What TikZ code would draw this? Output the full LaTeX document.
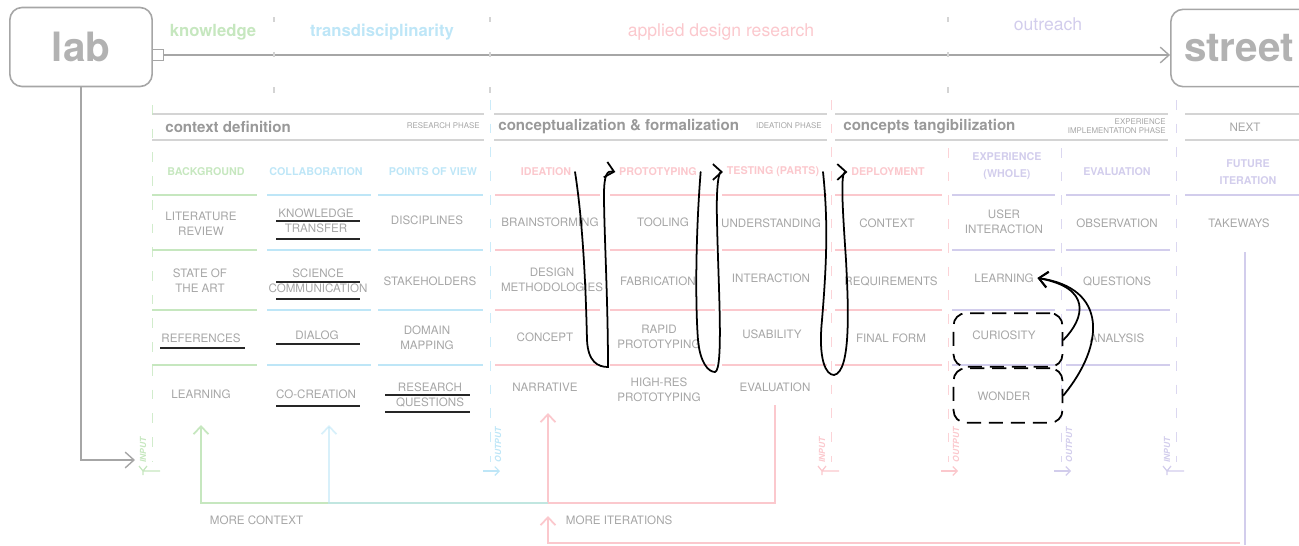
\documentclass[tikz,border=0pt]{standalone}
\usepackage{fontspec}
\setmainfont{TeX Gyre Heros}
\usetikzlibrary{arrows.meta}

\definecolor{kgreen}{RGB}{198,231,191}
\definecolor{tblue}{RGB}{190,230,247}
\definecolor{apink}{RGB}{251,200,205}
\definecolor{opurple}{RGB}{210,205,236}
\definecolor{txtgray}{RGB}{166,166,166}
\definecolor{rulegray}{RGB}{212,212,212}

\tikzset{
  cell/.style={text=txtgray, font=\fontsize{6.6}{8.5}\selectfont, align=center, inner sep=2pt},
  cat/.style={font=\fontsize{6.1}{10}\selectfont\bfseries, align=center, inner sep=2pt},
  phase/.style={text=black!40, font=\fontsize{8.6}{10}\selectfont\bfseries, anchor=west, inner sep=0pt},
  tag/.style={text=txtgray, font=\fontsize{4.5}{5.4}\selectfont, align=right, anchor=east, inner sep=0pt},
  theme/.style={font=\fontsize{9.5}{11}\selectfont\bfseries},
  place/.style={draw=txtgray, line width=0.9pt, rounded corners=7pt, text=black!30, font=\fontsize{23}{25}\selectfont\bfseries},
  flow/.style={draw=txtgray, line width=0.8pt, >={Straight Barb[length=5pt,width=9pt]}},
  fb/.style={line width=1pt, >={Straight Barb[length=4.5pt,width=8.5pt]}},
  hrule/.style={rulegray, line width=1.1pt},
  colrule/.style={line width=1.1pt},
  topsep/.style={rulegray, line width=0.6pt, dash pattern=on 3pt off 17pt},
  iosep/.style={line width=0.55pt, opacity=0.8, dash pattern=on 5.5pt off 8pt},
  io/.style={font=\fontsize{4.8}{5}\selectfont\bfseries\itshape, rotate=90, inner sep=0pt},
  uline/.style={black!85, line width=1pt},
  hand/.style={black, line width=1pt, line cap=round, >={Straight Barb[length=5pt,width=9pt]}},
  dbox/.style={draw=black, line width=1pt, dash pattern=on 8pt off 4.5pt, rounded corners=7pt, minimum width=62pt, inner sep=0pt}
}

\begin{document}
\begin{tikzpicture}[x=0.02cm, y=-0.02cm]
  \clip (0,0) rectangle (1299,545);

  % lab to street
  \node[place, minimum width=81pt, minimum height=45pt] (lab) at (81,47) {lab};
  \node[place, minimum width=81pt, minimum height=44pt, text width=66pt] (street) at (1242,48) {street};
  \node[draw=txtgray, line width=0.8pt, minimum size=6.3pt, inner sep=0pt] (port) at (158,55) {};
  \draw[flow, ->] (port) -- (port -| street.west);

  \foreach \x in {274, 490, 948}
    \draw[topsep] (\x,17) -- (\x,96);

  \node[theme, text=kgreen] (knowledge) at (213,32) {knowledge};
  \node[theme, text=tblue] (transdisc) at (382,32) {transdisciplinarity};
  \node[theme, text=apink, font=\fontsize{10}{12}\selectfont] (applied) at (721,32) {applied design research};
  \node[theme, text=opurple, font=\fontsize{10}{12}\selectfont] (outreach) at (1048,24) {outreach};

  % phase headers
  \foreach \a/\b in {152/484, 494/827, 835/1168, 1185/1305} {
    \draw[hrule] (\a,114) -- (\b,114);
    \draw[hrule] (\a,140) -- (\b,140);
  }
  \node[phase] (ctxdef) at (165,127) {context definition};
  \node[tag] (researchph) at (480,126) {RESEARCH PHASE};
  \node[phase] (concform) at (498,127) {conceptualization \& formalization};
  \node[tag] (ideationph) at (822,126) {IDEATION PHASE};
  \node[phase] (conctang) at (843,127) {concepts tangibilization};
  \node[tag] (experienceph) at (1166,126) {EXPERIENCE\\IMPLEMENTATION PHASE};
  \node[cell] (next) at (1245,127) {NEXT};

  % column rules
  \foreach \a/\b/\c in {152/257/kgreen, 267/371/tblue, 378/483/tblue, 495/600/apink, 610/715/apink,
                        722/827/apink, 835/942/apink, 952/1055/opurple, 1066/1170/opurple}
    \foreach \y in {195, 250, 310, 365}
      \draw[colrule, \c] (\a,\y) -- (\b,\y);
  \draw[colrule, opurple] (1185,195) -- (1305,195);

  % categories
  \node[cat, text=kgreen] (background) at (206,172) {BACKGROUND};
  \node[cat, text=tblue] (collaboration) at (316,172) {COLLABORATION};
  \node[cat, text=tblue] (pointsofview) at (433,172) {POINTS OF VIEW};
  \node[cat, text=apink] (ideation) at (546,172) {IDEATION};
  \node[cat, text=apink] (prototyping) at (658,172) {PROTOTYPING};
  \node[cat, text=apink] (testing) at (773,172) {TESTING (PARTS)};
  \node[cat, text=apink] (deployment) at (888,172) {DEPLOYMENT};
  \node[cat, text=opurple] (experience) at (1007,166) {EXPERIENCE\\(WHOLE)};
  \node[cat, text=opurple] (evaluation) at (1117,172) {EVALUATION};
  \node[cat, text=opurple] (future) at (1248,172) {FUTURE\\ITERATION};

  % cells
  \node[cell] (litreview) at (201,224) {LITERATURE\\REVIEW};
  \node[cell] (knowtransfer) at (316,221) {KNOWLEDGE\\TRANSFER};
  \node[cell] (disciplines) at (427,220) {DISCIPLINES};
  \node[cell] (brainstorming) at (550,222) {BRAINSTORMING};
  \node[cell] (tooling) at (663,222) {TOOLING};
  \node[cell] (understanding) at (771,223) {UNDERSTANDING};
  \node[cell] (context) at (887,223) {CONTEXT};
  \node[cell] (userinter) at (1004,222) {USER\\INTERACTION};
  \node[cell] (observation) at (1117,223) {OBSERVATION};
  \node[cell] (takeaways) at (1239,223) {TAKEWAYS};

  \node[cell] (stateart) at (200,281) {STATE OF\\THE ART};
  \node[cell] (scicomm) at (318,281) {SCIENCE\\COMMUNICATION};
  \node[cell] (stakeholders) at (430,281) {STAKEHOLDERS};
  \node[cell] (designmeth) at (552,280) {DESIGN\\METHODOLOGIES};
  \node[cell] (fabrication) at (658,281) {FABRICATION};
  \node[cell] (interaction) at (771,278) {INTERACTION};
  \node[cell] (requirements) at (891,281) {REQUIREMENTS};
  \node[cell] (learning) at (1004,278) {LEARNING};
  \node[cell] (questions) at (1117,281) {QUESTIONS};

  \node[cell] (references) at (201,338) {REFERENCES};
  \node[cell] (dialog) at (317,335) {DIALOG};
  \node[cell] (domainmap) at (427,338) {DOMAIN\\MAPPING};
  \node[cell] (concept) at (545,337) {CONCEPT};
  \node[cell] (rapidproto) at (659,337) {RAPID\\PROTOTYPING};
  \node[cell] (usability) at (772,334) {USABILITY};
  \node[cell] (finalform) at (891,338) {FINAL FORM};
  \node[cell] (curiosity) at (1004,335) {CURIOSITY};
  \node[cell] (analysis) at (1117,338) {ANALYSIS};

  \node[cell] (ctxlearning) at (201,394) {LEARNING};
  \node[cell] (cocreation) at (316,394) {CO-CREATION};
  \node[cell] (resquestions) at (430,395) {RESEARCH\\QUESTIONS};
  \node[cell] (narrative) at (545,387) {NARRATIVE};
  \node[cell] (highres) at (659,390) {HIGH-RES\\PROTOTYPING};
  \node[cell] (testeval) at (775,387) {EVALUATION};
  \node[cell] (wonder) at (1004,396) {WONDER};

  % underlines
  \foreach \a/\b/\y in {276/360/221, 276/360/239, 276/360/282, 276/360/299, 160/245/348,
                        276/360/344, 276/360/406, 385/470/395, 385/470/412}
    \draw[uline] (\a,\y) -- (\b,\y);

  % input / output separators
  \foreach \x/\y/\c in {152/105/kgreen, 490/100/tblue, 831/100/apink, 948/148/apink, 1061/148/opurple, 1176/100/opurple}
    \draw[iosep, \c] (\x,\y) -- (\x,462);
  \foreach \x/\c in {152/kgreen, 831/apink, 1176/opurple} {
    \node[io, text=\c] at (\x-9,450) {INPUT};
    \draw[\c, line width=0.7pt] (\x-13,466) -- (\x-9,471) -- (\x-5,466) (\x-9,471) -- (\x-9,475) (\x-9,471) -- (\x+8,471);
  }
  \foreach \x/\c in {490/tblue, 948/apink, 1061/opurple} {
    \node[io, text=\c] at (\x+8,445) {OUTPUT};
    \draw[\c, line width=0.7pt, -{Straight Barb[length=2.5pt,width=5pt]}] (\x-7,471) -- (\x+10,471);
  }

  % lab entry
  \coordinate (labin) at (135,460);
  \draw[flow, ->] (lab.south) |- (labin);

  % feedback loops
  \coordinate (tstout) at (775,405);
  \coordinate (fbjoin) at (548,503);
  \coordinate (narin) at (548,413);
  \coordinate (learnin) at (201,425);
  \coordinate (cocrin) at (329,425);
  \draw[fb, apink] (tstout) |- (fbjoin);
  \draw[fb, apink, ->] (fbjoin) -- (narin);
  \draw[fb, kgreen, ->] (fbjoin) -| (learnin);
  \draw[fb, tblue, opacity=0.6, ->] (fbjoin) -| (cocrin);
  \node[cell, anchor=west] (morectx) at (206,520) {MORE CONTEXT};

  \coordinate (nextout) at (1245,252);
  \coordinate (itercorner) at (1245,545);
  \coordinate (iterin) at (548,516);
  \draw[fb, opurple] (nextout) -- (itercorner);
  \draw[fb, apink, ->] (1240,543) -| (iterin);
  \node[cell, anchor=west] (moreiter) at (562,520) {MORE ITERATIONS};

  % hand drawn loops
  \draw[hand, ->] (ideation.east) .. controls (584,230) and (586,300) .. (587,340)
    .. controls (588,362) and (598,367) .. (608,367)
    .. controls (608,300) and (604,230) .. (604,195)
    .. controls (604,175) and (607,170) .. (prototyping.west);
  \draw[hand, ->] (prototyping.east) .. controls (696,230) and (695,300) .. (698,340)
    .. controls (700,362) and (708,372) .. (715,372)
    .. controls (724,370) and (718,280) .. (717,220)
    .. controls (716,185) and (719,172) .. (testing.west);
  \draw[hand, ->] (testing.east) .. controls (828,220) and (827,260) .. (822,320)
    .. controls (818,360) and (826,375) .. (834,375)
    .. controls (852,372) and (848,300) .. (846,260)
    .. controls (843,215) and (840,172) .. (deployment.west);

  \node[dbox, minimum height=30.5pt] (curiositybox) at (1008,340) {};
  \node[dbox, minimum height=31pt] (wonderbox) at (1008,395.5) {};
  \draw[hand, ->] (curiositybox.east) .. controls (1085,318) and (1092,288) .. (learning.east);
  \draw[hand, ->] (wonderbox.east) .. controls (1105,345) and (1108,288) .. (learning.east);
\end{tikzpicture}
\end{document}
